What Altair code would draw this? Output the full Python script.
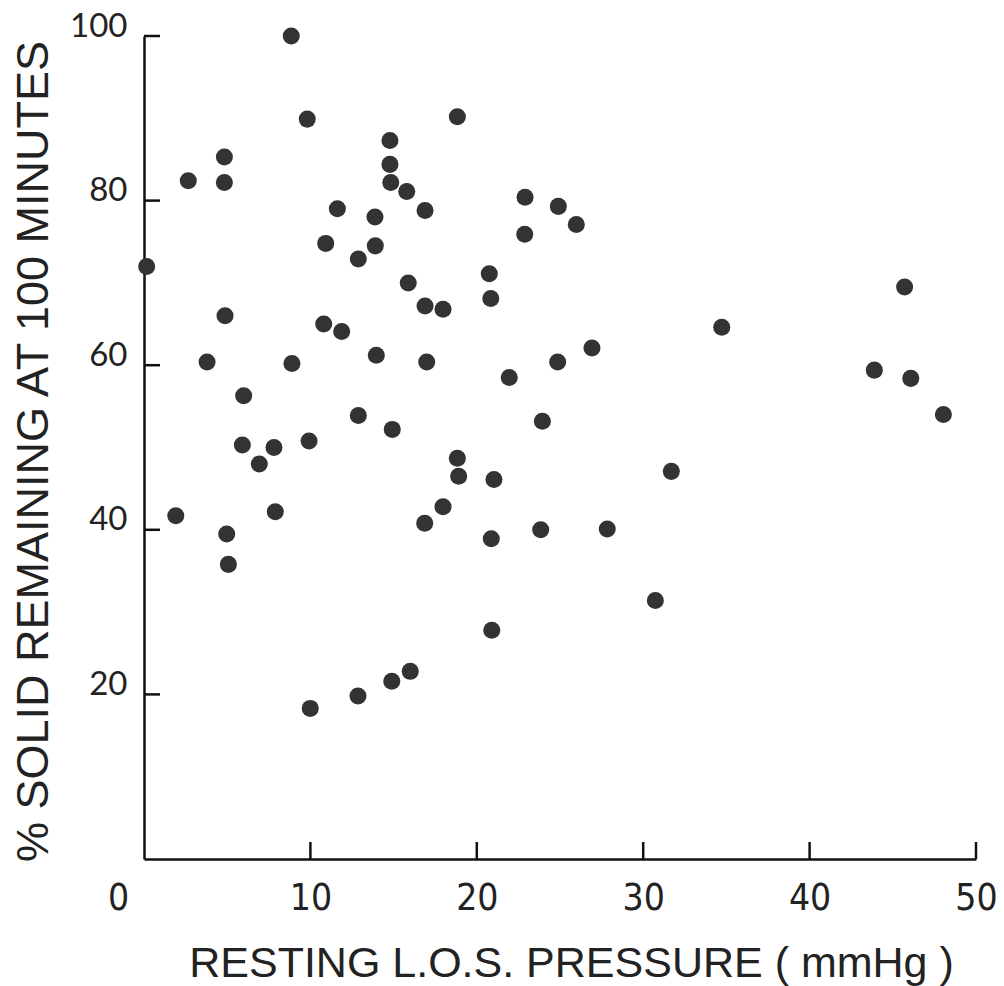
import altair as alt
import pandas as pd

# Resting L.O.S. pressure (mmHg) and % solid remaining at 100 minutes
pressure = [8.85, 9.81, 14.78, 14.78, 14.83, 15.79, 4.83, 2.66, 4.83, 11.62, 13.88,
            10.92, 13.90, 12.88, 0.16, 15.88, 4.87, 10.80, 11.88, 13.96, 3.79, 8.89,
            5.99, 12.88, 14.92, 5.91, 7.81, 9.92, 6.93, 1.91, 7.89, 4.97, 5.07,
            9.99, 12.86, 14.89, 16.00,
            18.83, 22.90, 24.90, 25.98, 22.88, 16.89, 20.75, 20.84, 16.89, 17.97,
            16.99, 24.86, 26.92, 21.95,
            23.94, 18.83, 18.91, 21.03, 31.69, 17.97, 16.87, 20.87, 23.84, 27.84,
            30.73, 20.90,
            45.71, 34.72, 43.89, 46.08, 48.04]
remaining = [100.0, 89.9, 87.3, 84.4, 82.2, 81.1, 85.3, 82.4, 82.2, 79.0, 78.0,
             74.8, 74.5, 72.9, 72.0, 70.0, 66.0, 65.0, 64.1, 61.2, 60.4, 60.2,
             56.3, 53.9, 52.2, 50.3, 50.0, 50.8, 48.0, 41.7, 42.2, 39.5, 35.8,
             18.3, 19.8, 21.6, 22.8,
             90.2, 80.4, 79.3, 77.1, 75.9, 78.8, 71.1, 68.1, 67.2, 66.8,
             60.4, 60.4, 62.1, 58.5,
             53.2, 48.7, 46.5, 46.1, 47.1, 42.8, 40.8, 38.9, 40.0, 40.1,
             31.4, 27.8,
             69.5, 64.6, 59.4, 58.4, 54.0]

x_ticks = [0, 10, 20, 30, 40, 50]
y_ticks = [20, 40, 60, 80, 100]

W, H = 832, 823

pts = pd.DataFrame({"pressure": pressure, "remaining": remaining})
xt = pd.DataFrame({"v": x_ticks[1:]})
yt = pd.DataFrame({"v": y_ticks})

xscale = alt.Scale(domain=[0, 50], nice=False, zero=False)
yscale = alt.Scale(domain=[0, 100], nice=False, zero=False)

points = alt.Chart(pts).mark_circle(size=290, color="#333333", opacity=1).encode(
    x=alt.X("pressure:Q", scale=xscale,
            axis=alt.Axis(values=x_ticks, title="RESTING L.O.S. PRESSURE ( mmHg )",
                          ticks=False, tickSize=0, grid=False,
                          domainColor="#111111", domainWidth=2.5,
                          labelFont="Liberation Sans Narrow, DejaVu Sans Condensed, Liberation Sans",
                          labelFontSize=37, labelColor="#222222",
                          labelBaseline="top", labelPadding=21, labelFlush=False,
                          labelOffset={"condition": {"test": "datum.value === 0", "value": -26}, "value": 0},
                          titleFont="Liberation Sans", titleFontSize=43, titleFontWeight="normal",
                          titleColor="#222222", titleX=427, titleY=117,
                          titleAnchor="middle", titleAlign="center", titleBaseline="alphabetic")),
    y=alt.Y("remaining:Q", scale=yscale,
            axis=alt.Axis(values=y_ticks, title="% SOLID REMAINING AT 100 MINUTES",
                          ticks=False, tickSize=0, grid=False,
                          domainColor="#111111", domainWidth=2.5,
                          labelFont="Lato", labelFontSize=33, labelColor="#222222",
                          labelBaseline="alphabetic", labelPadding=17, labelFlush=False,
                          titleFont="Liberation Sans", titleFontSize=45, titleFontWeight="normal",
                          titleColor="#222222", titleAngle=-90, titleX=-97, titleY=415,
                          titleAlign="center", titleBaseline="alphabetic")),
)

xtick_rules = alt.Chart(xt).mark_rule(color="#111111", strokeWidth=2.5).encode(
    x=alt.X("v:Q", scale=xscale, axis=None),
    y=alt.value(H),
    y2=alt.value(H - 17),
)

ytick_rules = alt.Chart(yt).mark_rule(color="#111111", strokeWidth=2.5).encode(
    y=alt.Y("v:Q", scale=yscale, axis=None),
    x=alt.value(0),
    x2=alt.value(16),
)

chart = alt.layer(points, ytick_rules, xtick_rules).resolve_axis(
    x="independent", y="independent"
).properties(
    width=W, height=H,
    autosize=alt.AutoSizeParams(type="none"),
    padding={"left": 144, "top": 36, "right": 28, "bottom": 127},
    background="white",
).configure_view(stroke=None)

chart.save("out.html", embed_options={"renderer": "svg", "actions": False})
